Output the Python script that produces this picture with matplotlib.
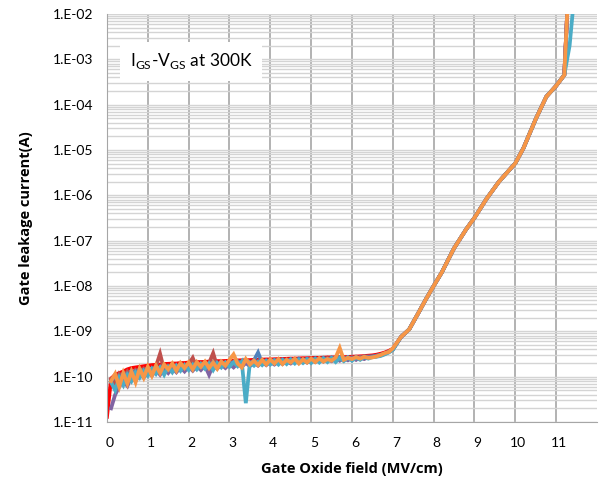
import numpy as np
import matplotlib
matplotlib.use("Agg")
import matplotlib.pyplot as plt
import matplotlib.transforms as mtransforms
from matplotlib.ticker import FixedLocator, FuncFormatter, LogLocator

plt.rcParams["font.family"] = ["Lato", "DejaVu Sans"]

# field grid for the low-field (noise floor) part, MV/cm
X_LOW = [0.0, 0.1, 0.2, 0.3, 0.4, 0.5, 0.6, 0.7, 0.8, 0.9,
         1.0, 1.1, 1.2, 1.3, 1.4, 1.5, 1.6, 1.7, 1.8, 1.9,
         2.0, 2.1, 2.2, 2.3, 2.4, 2.5, 2.6, 2.7, 2.8, 2.9,
         3.0, 3.1, 3.2, 3.3, 3.4, 3.5, 3.6, 3.7, 3.8, 3.9,
         4.0, 4.1, 4.2, 4.3, 4.4, 4.5, 4.6, 4.7, 4.8, 4.9,
         5.0, 5.1, 5.2, 5.3, 5.4, 5.5, 5.6, 5.7, 5.8, 5.9,
         6.0, 6.1, 6.2, 6.3, 6.4, 6.5, 6.6, 6.7, 6.8, 6.9, 7.0]

nan = np.nan
# leakage currents in units of 1e-10 A
red = [0.13, 0.9, 1.1, 1.2, 1.3, 1.45, 1.55, 1.6, 1.65, 1.7,
       1.75, 1.8, 1.82, 1.85, 1.9, 1.92, 1.95, 1.95, 2.0, 2.0,
       2.05, 2.05, 2.1, 2.1, 2.12, 2.15, 2.15, 2.2, 2.2, 2.22,
       2.25, 2.25, 2.28, 2.3, 2.3, 2.32, 2.35, 2.35, 2.38, 2.4,
       2.4, 2.42, 2.45, 2.45, 2.48, 2.5, 2.5, 2.52, 2.55, 2.55,
       2.58, 2.6, 2.6, 2.62, 2.65, 2.65, 2.68, 2.7, 2.7, 2.72,
       2.75, 2.78, 2.8, 2.85, 2.9, 2.95, 3.05, 3.2, 3.4, 3.7, 4.1]
brown = [nan, 0.9, 0.7, 1.15, 0.9, 1.3, 1.0, 1.4, 1.15, 1.5,
         1.25, 1.2, 1.7, 3.2, 1.4, 1.35, 1.8, 1.45, 1.85, 1.5,
         1.9, 2.6, 1.55, 1.95, 1.6, 2.0, 3.3, 1.65, 2.05, 1.7,
         2.1, 1.75, 2.15, 1.8, 2.2, 1.85, 2.25, 1.9, 2.2, 1.85,
         2.3, 1.95, 2.35, 2.0, 2.4, 2.05, 2.4, 2.1, 2.45, 2.1,
         2.5, 2.15, 2.55, 2.2, 2.6, 2.25, 2.6, 2.3, 2.65, 2.35,
         2.7, 2.4, 2.75, 2.5, 2.8, 2.75, 2.9, 3.0, 3.2, 3.5, 4.0]
blue = [nan, 0.8, 1.0, 0.8, 1.2, 0.95, 1.35, 1.1, 1.5, 1.2,
        1.6, 1.3, 1.7, 1.4, 1.8, 1.45, 1.85, 1.5, 1.9, 1.55,
        1.95, 1.6, 2.0, 1.65, 2.05, 1.7, 2.1, 1.75, 2.15, 1.8,
        2.15, 1.85, 2.2, 1.9, 2.25, 1.95, 2.3, 3.4, 2.0, 2.3,
        2.05, 2.35, 2.1, 2.4, 2.1, 2.45, 2.15, 2.5, 2.2, 2.5,
        2.25, 2.55, 2.3, 2.6, 2.3, 2.65, 2.35, 2.7, 2.4, 2.7,
        2.45, 2.75, 2.5, 2.8, 2.75, 2.8, 2.9, 3.05, 3.25, 3.55, 4.0]
purple = [nan, 0.2, 0.4, 0.6, 0.8, 0.62, 1.0, 0.8, 1.15, 0.95,
          1.25, 1.05, 1.4, 1.1, 1.5, 1.2, 1.55, 1.25, 1.6, 1.3,
          1.65, 1.35, 1.7, 1.4, 1.75, 1.1, 1.8, 1.5, 1.85, 1.55,
          1.9, 1.6, 1.95, 1.65, 2.0, 1.7, 2.05, 1.75, 2.1, 1.8,
          2.1, 1.85, 2.15, 1.9, 2.2, 1.95, 2.25, 2.0, 2.3, 2.05,
          2.35, 2.1, 2.4, 2.15, 2.45, 2.2, 2.5, 2.25, 2.55, 2.3,
          2.6, 2.35, 2.65, 2.45, 2.7, 2.7, 2.8, 2.95, 3.15, 3.5, 3.95]
teal = [nan, 0.75, 0.5, 0.95, 0.65, 1.1, 0.8, 1.25, 0.95, 1.35,
        1.05, 1.5, 1.15, 1.6, 1.1, 1.65, 1.25, 1.75, 1.35, 1.8,
        1.4, 1.85, 1.45, 1.9, 1.5, 1.95, 1.4, 2.0, 1.6, 2.05,
        1.65, 2.1, 1.7, 2.15, 0.26, 2.05, 1.75, 2.15, 1.8, 2.2,
        1.85, 2.25, 1.85, 2.3, 1.9, 2.35, 1.95, 2.35, 2.0, 2.4,
        2.0, 2.45, 2.05, 2.5, 2.1, 2.55, 2.1, 2.6, 2.2, 2.65,
        2.25, 2.65, 2.35, 2.7, 2.5, 2.7, 2.75, 2.85, 3.1, 3.4, 3.9]
orange = [nan, 0.8, 1.15, 0.6, 1.2, 0.7, 1.3, 0.75, 1.5, 0.95,
          1.65, 1.05, 1.75, 1.2, 1.85, 1.45, 1.95, 1.35, 2.0, 1.55,
          2.05, 1.45, 2.1, 1.65, 2.15, 1.55, 2.05, 1.5, 2.15, 1.75,
          2.35, 3.1, 1.95, 1.6, 2.45, 1.85, 2.25, 1.8, 2.35, 1.85,
          2.4, 1.95, 2.45, 1.9, 2.35, 2.05, 2.5, 1.95, 2.4, 2.05,
          2.5, 2.1, 2.55, 2.15, 2.45, 2.25, 2.65, 4.3, 2.35, 2.6,
          2.45, 2.7, 2.5, 2.75, 2.6, 2.65, 2.8, 3.0, 3.3, 3.5, 4.2]

# high-field (Fowler-Nordheim) part, common to all devices
X_HIGH = [7.2, 7.4, 7.6, 7.8, 8.0, 8.2, 8.5, 8.8, 9.0, 9.3, 9.6, 10.0, 10.2, 10.5, 10.76, 11.0, 11.2]
I_HIGH = [7.5e-10, 1.1e-9, 2.3e-9, 4.9e-9, 1.0e-8, 2.0e-8, 6.8e-8, 1.8e-7, 3.2e-7, 8.5e-7,
          2.0e-6, 5.1e-6, 1.1e-5, 4.8e-5, 1.5e-4, 2.6e-4, 4.5e-4]
TAIL_X = [11.27, 11.32]
TAIL_I = [1.0e-2, 3.0e-2]
TEAL_TAIL_X = [11.33, 11.42]
TEAL_TAIL_I = [2.0e-3, 1.5e-2]

SERIES = [("#FF0000", red), ("#C0504D", brown), ("#4F81BD", blue),
          ("#8064A2", purple), ("#4BACC6", teal), ("#F79646", orange)]

fig = plt.figure(figsize=(5.99, 4.82), dpi=100)
ax = fig.add_axes([0.1786, 0.1245, 0.818, 0.8465])

for color, low in SERIES:
    tx, ti = (TEAL_TAIL_X, TEAL_TAIL_I) if color == "#4BACC6" else (TAIL_X, TAIL_I)
    x = list(X_LOW) + X_HIGH + tx
    y = list(np.array(low) * 1e-10) + I_HIGH + ti
    ax.plot(x, y, color=color, lw=2.7, solid_joinstyle="miter")

ax.set_yscale("log")
ax.set_xlim(0, 12)
ax.set_ylim(1e-11, 1e-2)

ax.xaxis.set_major_locator(FixedLocator(range(0, 12)))
ax.yaxis.set_major_locator(LogLocator(base=10, numticks=20))
ax.yaxis.set_minor_locator(LogLocator(base=10, subs=np.arange(2, 10), numticks=100))
ax.yaxis.set_major_formatter(FuncFormatter(lambda v, p: "1.E-%02d" % round(-np.log10(v))))

ax.grid(True, which="major", axis="x", color="#A6A6A6", lw=1.2)
ax.grid(True, which="both", axis="y", color="#D4D4D4", lw=1.0)
ax.set_axisbelow(True)
for s in ax.spines.values():
    s.set_visible(False)
ax.spines["left"].set_visible(True)
ax.spines["left"].set_color("#A6A6A6")
ax.spines["bottom"].set_visible(True)
ax.spines["bottom"].set_color("#A6A6A6")

ax.tick_params(which="both", length=0)
ax.tick_params(axis="x", labelsize=10, pad=11)
ax.tick_params(axis="y", labelsize=10, pad=10)

# Excel puts the category labels a few pixels right of the gridline
shift = mtransforms.ScaledTranslation(3 / 100, 0, fig.dpi_scale_trans)
for lbl in ax.get_xticklabels():
    lbl.set_transform(lbl.get_transform() + shift)

bold = dict(fontsize=10.5, fontweight="bold", family=["Open Sans", "DejaVu Sans"])
ax.set_xlabel("Gate Oxide field (MV/cm)", labelpad=9, **bold)
ax.set_ylabel("Gate leakage current(A)", labelpad=14, **bold)

ax.text(0.047, 0.884, r"I$_{\mathregular{GS}}$-V$_{\mathregular{GS}}$ at 300K",
        transform=ax.transAxes, fontsize=12.5, va="center", ha="left",
        bbox=dict(boxstyle="square,pad=0.55", facecolor="white", edgecolor="none"))

fig.savefig("out.png", dpi=100)
